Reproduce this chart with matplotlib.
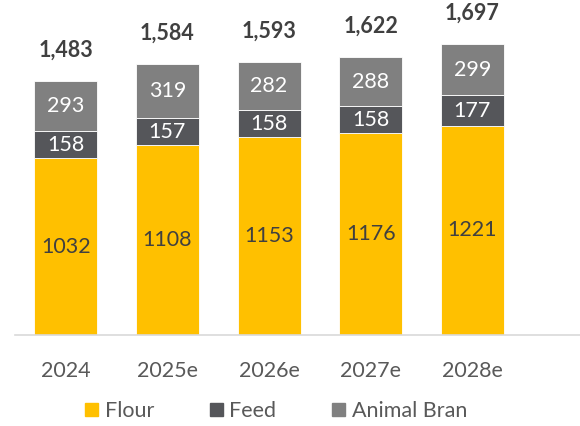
import matplotlib.pyplot as plt
from matplotlib.patches import Patch

plt.rcParams['font.family'] = ['Lato', 'DejaVu Sans']

years = ['2024', '2025e', '2026e', '2027e', '2028e']
flour = [1032, 1108, 1153, 1176, 1221]
feed = [158, 157, 158, 158, 177]
bran = [293, 319, 282, 288, 299]
totals = [1483, 1584, 1593, 1622, 1697]

c_flour = '#FFC000'
c_feed = '#55565A'
c_bran = '#808080'
txt = '#404040'

fig = plt.figure(figsize=(5.8, 4.26), dpi=100)
ax = fig.add_axes([15 / 580, 91 / 426, 565 / 580, 335 / 426])

x = range(len(years))
w = 0.62
b1 = ax.bar(x, flour, w, color=c_flour, edgecolor='white', linewidth=0.6)
b2 = ax.bar(x, feed, w, bottom=flour, color=c_feed, edgecolor='white', linewidth=0.6)
bot3 = [f + d for f, d in zip(flour, feed)]
b3 = ax.bar(x, bran, w, bottom=bot3, color=c_bran, edgecolor='white', linewidth=0.6)

fs = 15.5
ax.bar_label(b1, labels=[str(v) for v in flour], label_type='center', color=txt, fontsize=fs)
ax.bar_label(b2, labels=[str(v) for v in feed], label_type='center', color='white', fontsize=fs)
ax.bar_label(b3, labels=[str(v) for v in bran], label_type='center', color='white', fontsize=fs)

for i, t in enumerate(totals):
    ax.annotate(f'{t:,}', (i, t), xytext=(0, 22), textcoords='offset points',
                ha='center', va='center', fontsize=fs, fontweight='bold', color=txt)

ax.set_xlim(-0.5, 5.06)
ax.set_ylim(0, 1955)
ax.set_xticks(list(x))
ax.set_xticklabels(years, fontsize=fs, color='#595959')
ax.tick_params(axis='x', length=0, pad=19)
ax.set_yticks([])
for s in ['top', 'right', 'left']:
    ax.spines[s].set_visible(False)
ax.spines['bottom'].set_color('#D9D9D9')
ax.spines['bottom'].set_linewidth(1.2)

handles = [Patch(color=c_flour, label='Flour'),
           Patch(color=c_feed, label='Feed'),
           Patch(color=c_bran, label='Animal Bran')]
leg = fig.legend(handles=handles, loc='center', bbox_to_anchor=(0.476, 0.035), ncol=3,
                 frameon=False, fontsize=fs, handlelength=0.6, handleheight=0.6,
                 handletextpad=0.3, columnspacing=2.6)
for t in leg.get_texts():
    t.set_color('#595959')

fig.savefig('out.png', dpi=100)
